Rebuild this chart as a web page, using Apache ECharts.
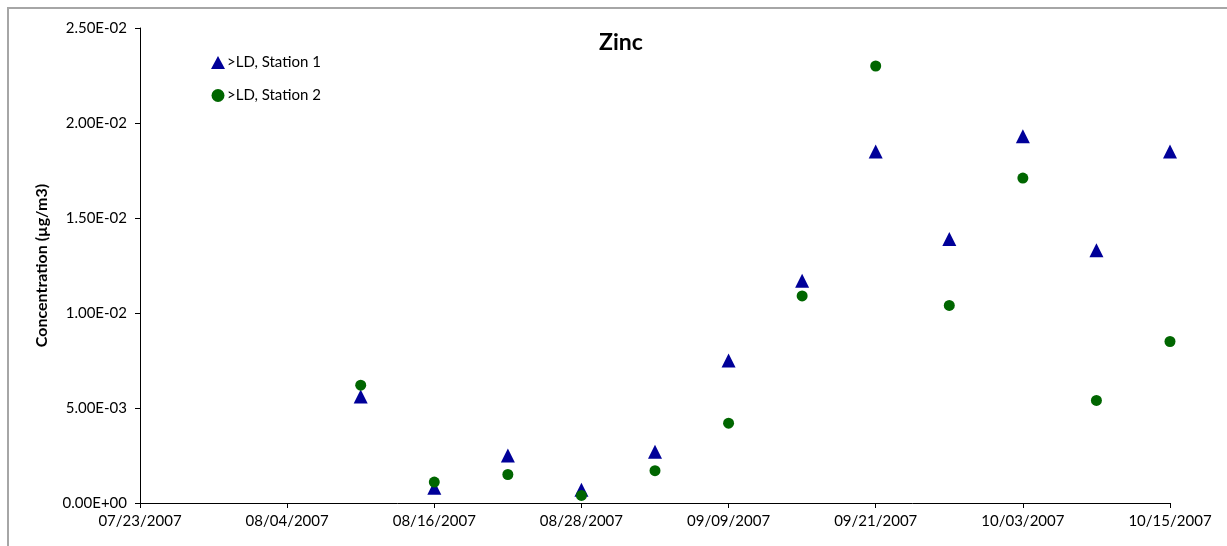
<!DOCTYPE html>
<html>
<head>
<meta charset="utf-8">
<script src="https://cdn.jsdelivr.net/npm/echarts@6/dist/echarts.min.js"></script>
<style>
  html, body { margin: 0; padding: 0; background: #fff; }
  #chart { width: 1227px; height: 546px; }
</style>
</head>
<body>
<div id="chart"></div>
<script>
// Sampling dates (every 6 days)
var sampleDates = ['2007-08-10', '2007-08-16', '2007-08-22', '2007-08-28', '2007-09-03', '2007-09-09',
                   '2007-09-15', '2007-09-21', '2007-09-27', '2007-10-03', '2007-10-09', '2007-10-15'];
// Zinc concentrations above detection limit (µg/m3)
var station1 = [0.0056, 0.0008, 0.0025, 0.0007, 0.0027, 0.0075, 0.0117, 0.0185, 0.0139, 0.0193, 0.0133, 0.0185];
var station2 = [0.0062, 0.0011, 0.0015, 0.0004, 0.0017, 0.0042, 0.0109, 0.0230, 0.0104, 0.0171, 0.0054, 0.0085];
var seriesNames = ['>LD, Station 1', '>LD, Station 2'];
// Date axis runs from its start date in 12-day steps
var axisStart = '2007-07-23';
var axisDays = 84;
var tickDays = 12;

var DAY = 86400000;
var t0 = Date.parse(axisStart + 'T00:00:00Z');
function dayOffset(s) { return Math.round((Date.parse(s + 'T00:00:00Z') - t0) / DAY); }
function pad(n) { return (n < 10 ? '0' : '') + n; }
function dateLabel(v) {
  var d = new Date(t0 + v * DAY);
  return pad(d.getUTCMonth() + 1) + '/' + pad(d.getUTCDate()) + '/' + d.getUTCFullYear();
}
function sciLabel(v) {
  var s = Number(v).toExponential(2).toUpperCase();
  return s.replace(/E([+-])(\d)$/, 'E$10$2');
}
function pts(vals) { return sampleDates.map(function (d, i) { return [dayOffset(d), vals[i]]; }); }

var FONT = 'Lato';
var chart = echarts.init(document.getElementById('chart'), null, { renderer: 'canvas' });
chart.setOption({
  animation: false,
  backgroundColor: '#ffffff',
  textStyle: { fontFamily: FONT, color: '#000' },
  title: {
    text: 'Zinc', left: 594, top: 26,
    textStyle: { fontFamily: FONT, fontSize: 23, fontWeight: 'bold', color: '#000' }
  },
  graphic: [{
    type: 'rect', silent: true,
    shape: { x: 8, y: 8, width: 1300, height: 600 },
    style: { fill: 'none', stroke: '#a6a6a6', lineWidth: 2 }
  }],
  legend: {
    orient: 'vertical', left: 206, top: 50, itemGap: 18,
    itemWidth: 14, itemHeight: 13,
    textStyle: { fontFamily: FONT, fontSize: 15, color: '#000', padding: [0, 0, 0, -3] },
    data: seriesNames
  },
  grid: { left: 140, right: 57, top: 28, bottom: 43, containLabel: false },
  xAxis: {
    type: 'value', min: 0, max: axisDays, interval: tickDays,
    axisLine: { show: true, lineStyle: { color: '#000', width: 1 } },
    axisTick: { show: true, length: 5, lineStyle: { color: '#000' } },
    splitLine: { show: false },
    axisLabel: { formatter: dateLabel, fontFamily: FONT, fontSize: 15, color: '#000', margin: 11 }
  },
  yAxis: {
    type: 'value', min: 0, max: 0.025, interval: 0.005,
    name: 'Concentration (µg/m3)', nameLocation: 'middle', nameGap: 90,
    nameTextStyle: { fontFamily: FONT, fontSize: 16, fontWeight: 'bold', color: '#000' },
    axisLine: { show: true, lineStyle: { color: '#000', width: 1 } },
    axisTick: { show: true, length: 5, lineStyle: { color: '#000' } },
    splitLine: { show: false },
    axisLabel: { formatter: sciLabel, fontFamily: FONT, fontSize: 15, color: '#000', margin: 13 }
  },
  series: [
    {
      name: seriesNames[0], type: 'scatter', symbol: 'triangle', symbolSize: 14,
      itemStyle: { color: '#000099', opacity: 1 }, data: pts(station1), z: 2
    },
    {
      name: seriesNames[1], type: 'scatter', symbol: 'circle', symbolSize: 11,
      itemStyle: { color: '#006600', opacity: 1 }, data: pts(station2), z: 3
    }
  ]
});
</script>
</body>
</html>
